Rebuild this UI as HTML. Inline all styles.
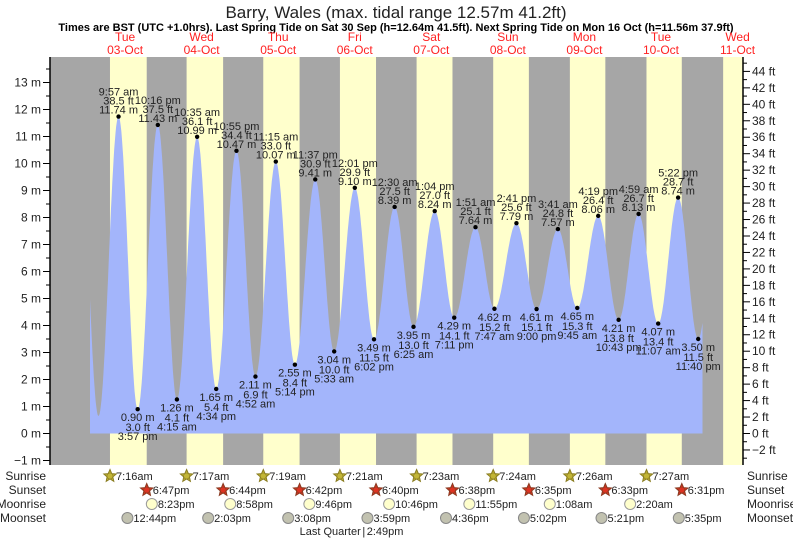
<!DOCTYPE html>
<html><head><meta charset="utf-8">
<style>
html,body{margin:0;padding:0;background:#fff;}
svg{display:block;font-family:"Liberation Sans",sans-serif;}
</style></head>
<body>
<svg id="chart" width="793" height="539" viewBox="0 0 793 539">
<text x="396" y="18" font-size="17" text-anchor="middle" fill="#222">Barry, Wales (max. tidal range 12.57m 41.2ft)</text>
<text x="396" y="31" font-size="11" font-weight="bold" text-anchor="middle" fill="#000">Times are BST (UTC +1.0hrs). Last Spring Tide on Sat 30 Sep (h=12.64m 41.5ft). Next Spring Tide on Mon 16 Oct (h=11.56m 37.9ft)</text>
<g id="bg"></g>
<g id="fill"></g>
<g id="axes"></g>
<g id="labels"></g>
<g id="days"></g>
<g id="astro"></g>
</svg>
<script>
// ---- data ----
const dayNames = ["Tue","Wed","Thu","Fri","Sat","Sun","Mon","Tue","Wed"];
const dayDates = ["03-Oct","04-Oct","05-Oct","06-Oct","07-Oct","08-Oct","09-Oct","10-Oct","11-Oct"];
const tideDay = [0,0,0,0, 1,1,1,1, 2,2,2,2, 3,3,3, 4,4,4,4, 5,5,5,5, 6,6,6,6, 7,7,7,7];
const tideTime = ["3:40 am","9:57 am","3:57 pm","10:16 pm","4:15 am","10:35 am","4:34 pm","10:55 pm","4:52 am","11:15 am","5:14 pm","11:37 pm","5:33 am","12:01 pm","6:02 pm","12:30 am","6:25 am","1:04 pm","7:11 pm","1:51 am","7:47 am","2:41 pm","9:00 pm","3:41 am","9:45 am","4:19 pm","10:43 pm","4:59 am","11:07 am","5:22 pm","11:40 pm"];
const tideHeight = [0.65,11.74,0.90,11.43,1.26,10.99,1.65,10.47,2.11,10.07,2.55,9.41,3.04,9.10,3.49,8.39,3.95,8.24,4.29,7.64,4.62,7.79,4.61,7.57,4.65,8.06,4.21,8.13,4.07,8.74,3.50];
const tideLabeled = [0,1,1,1,1,1,1,1,1,1,1,1,1,1,1,1,1,1,1,1,1,1,1,1,1,1,1,1,1,1,1];
const sunriseTimes = ["7:16am","7:17am","7:19am","7:21am","7:23am","7:24am","7:26am","7:27am"];
const sunsetTimes = ["6:47pm","6:44pm","6:42pm","6:40pm","6:38pm","6:35pm","6:33pm","6:31pm"];
const moonriseDay = [0,1,2,3,4,6,7];
const moonriseTimes = ["8:23pm","8:58pm","9:46pm","10:46pm","11:55pm","1:08am","2:20am"];
const moonsetDay = [0,1,2,3,4,5,6,7];
const moonsetTimes = ["12:44pm","2:03pm","3:08pm","3:59pm","4:36pm","5:02pm","5:21pm","5:35pm"];
const phaseDay = 3, phaseName = "Last Quarter", phaseTime = "2:49pm";
const mTicks = [-1,0,1,2,3,4,5,6,7,8,9,10,11,12,13];
const ftTicks = [-2,0,2,4,6,8,10,12,14,16,18,20,22,24,26,28,30,32,34,36,38,40,42,44];

// ---- scales ----
const X0 = 86.8, PXH = 3.19;
const PL = 50, PR = 743, PT = 57, PB = 465;
const x = t => X0 + t * PXH;
const Y0 = 433.5, PXM = 27.0;
const y = m => Y0 - m * PXM;
const yft = f => y(f * 0.3048);
function parseT(s){
  const m = s.match(/(\d+):(\d+)\s*(am|pm)/);
  let h = +m[1] % 12; if (m[3] === "pm") h += 12;
  return h + (+m[2]) / 60;
}
const NS = "http://www.w3.org/2000/svg";
function mk(tag, attrs, parent, txt){
  const e = document.createElementNS(NS, tag);
  for (const k in attrs) e.setAttribute(k, attrs[k]);
  if (txt !== undefined) e.textContent = txt;
  parent.appendChild(e); return e;
}
const bg = document.getElementById("bg");
const fillG = document.getElementById("fill");
const axes = document.getElementById("axes");
const labels = document.getElementById("labels");
const days = document.getElementById("days");
const astro = document.getElementById("astro");

// ---- background ----
let r = mk("rect", {x:PL, y:PT, width:PR-PL, height:PB-PT, fill:"#a6a6a6"}, bg);


for (let d = 0; d < 9; d++) {
  const sr = parseT(d < 8 ? sunriseTimes[d] : "7:29am") + d*24;
  const ss = parseT(d < 8 ? sunsetTimes[d] : "6:29pm") + d*24;
  const x1 = Math.max(PL, x(sr)), x2 = Math.min(PR, x(ss));
  const b = mk("rect", {x:x1, y:PT, width:Math.max(0,x2-x1), height:PB-PT, fill:"#ffffcc"}, bg);
  
  
}

// ---- tide curve ----
const ext = tideTime.map((s,i) => ({t: tideDay[i]*24 + parseT(s), h: tideHeight[i]}));
const allExt = [{t:-2.5, h:11.6}].concat(ext, [{t:197.9, h:9.0}]);
function level(t){
  for (let i = 0; i < allExt.length-1; i++) {
    const a = allExt[i], b = allExt[i+1];
    if (t >= a.t && t <= b.t) {
      const f = (t - a.t) / (b.t - a.t);
      return b.h + (a.h - b.h) * (1 + Math.cos(Math.PI * f)) / 2;
    }
  }
  return allExt[allExt.length-1].h;
}
const tStart = 1.0, tEnd = 193.0;
let d = `M${x(tStart).toFixed(1)},${y(0).toFixed(1)}`;
for (let t = tStart; t <= tEnd + 1e-6; t += 0.2) d += ` L${x(t).toFixed(1)},${y(level(t)).toFixed(1)}`;
d += ` L${x(tEnd).toFixed(1)},${y(0).toFixed(1)} Z`;
const area = mk("path", {d:d, fill:"#a3b5fb"}, fillG);



// ---- axes ----
mk("line", {x1:PL, y1:PT, x2:PL, y2:PB, stroke:"#000", "stroke-width":1.5}, axes);
mk("line", {x1:PR, y1:PT, x2:PR, y2:PB, stroke:"#000", "stroke-width":1.5}, axes);
mTicks.forEach(m => {
  mk("line", {x1:PL-7, y1:y(m), x2:PL, y2:y(m), stroke:"#000"}, axes);
  if (m < 13.5) mk("line", {x1:PL-4, y1:y(m+0.5), x2:PL, y2:y(m+0.5), stroke:"#000"}, axes);
  const t = mk("text", {x:PL-9, y:y(m)+4, "font-size":12, "text-anchor":"end", fill:"#222"}, axes, (m<0?"\u2212"+(-m):m) + " m");
  
  
});
mk("line", {x1:PL-4, y1:y(-0.5), x2:PL, y2:y(-0.5), stroke:"#000"}, axes);
ftTicks.forEach(f => {
  mk("line", {x1:PR, y1:yft(f), x2:PR+7, y2:yft(f), stroke:"#000"}, axes);
  mk("line", {x1:PR, y1:yft(f+1), x2:PR+4, y2:yft(f+1), stroke:"#000"}, axes);
  const t = mk("text", {x:PR+9, y:yft(f)+4, "font-size":12, fill:"#222"}, axes, (f<0?"\u2212"+(-f):f) + " ft");
  
  
});
mk("line", {x1:PR, y1:yft(-3), x2:PR+4, y2:yft(-3), stroke:"#000"}, axes);

// ---- tide labels ----
ext.forEach((e, i) => {
  if (!tideLabeled[i]) return;
  const cx = x(e.t), cy = y(e.h);
  const isHigh = (i > 0 ? e.h > ext[i-1].h : e.h > ext[i+1].h);
  const dot = mk("circle", {cx:cx, cy:cy, r:2.2, fill:"#000"}, labels);
  
  
  const mStr = e.h.toFixed(2) + " m", ftStr = (e.h * 3.28084).toFixed(1) + " ft", tStr = tideTime[i];
  const lines = isHigh ? [[tStr,-21],[ftStr,-12],[mStr,-3]] : [[mStr,12],[ftStr,22],[tStr,31]];
  lines.forEach(l => {
    const t = mk("text", {x:cx, y:cy + l[1], "font-size":11, "text-anchor":"middle", fill:"#222"}, labels, l[0]);
    
    
  });
});

// ---- day labels ----
dayNames.forEach((n, i) => {
  const cx = x(i*24 + 12);
  const a = mk("text", {x:cx, y:41, "font-size":12, "text-anchor":"middle", fill:"#f22"}, days, n);
  
  
  const b = mk("text", {x:cx, y:54, "font-size":12, "text-anchor":"middle", fill:"#f22"}, days, dayDates[i]);
  
  
});

// ---- astro rows ----
const rows = [["Sunrise",476],["Sunset",490],["Moonrise",504],["Moonset",518]];
rows.forEach(rw => {
  const a = mk("text", {x:46, y:rw[1]+4, "font-size":12, "text-anchor":"end", fill:"#222"}, astro, rw[0]);
  
  
  const b = mk("text", {x:747, y:rw[1]+4, "font-size":12, fill:"#222"}, astro, rw[0]);
  
  
});
function star(cx, cy, fill, stroke){
  let p = "";
  for (let k = 0; k < 10; k++) {
    const ang = -Math.PI/2 + k*Math.PI/5, rr = k%2 ? 3 : 6.5;
    p += (k ? "L" : "M") + (cx + rr*Math.cos(ang)).toFixed(1) + "," + (cy + rr*Math.sin(ang)).toFixed(1);
  }
  const s = mk("path", {d:p+"Z", fill:fill, stroke:stroke, "stroke-width":1}, astro);
  mk("circle", {cx:cx, cy:cy, r:3, fill:fill, stroke:stroke, "stroke-width":0.6}, astro);
  return s;
}
sunriseTimes.forEach((s, i) => {
  const cx = x(i*24 + parseT(s));
  const st = star(cx, 476, "#c2b536", "#8a7d20");
  
  
  const t = mk("text", {x:cx+6, y:480, "font-size":11, fill:"#222"}, astro, s);
  
  
});
sunsetTimes.forEach((s, i) => {
  const cx = x(i*24 + parseT(s));
  const st = star(cx, 490, "#dd3322", "#8a3a20");
  
  
  const t = mk("text", {x:cx+6, y:494, "font-size":11, fill:"#222"}, astro, s);
  
  
});
moonriseTimes.forEach((s, i) => {
  const cx = x(moonriseDay[i]*24 + parseT(s));
  const c = mk("circle", {cx:cx, cy:504, r:5.5, fill:"#ffffcc", stroke:"#999", "stroke-width":1}, astro);
  
  
  const t = mk("text", {x:cx+6, y:508, "font-size":11, fill:"#222"}, astro, s);
  
  
});
moonsetTimes.forEach((s, i) => {
  const cx = x(moonsetDay[i]*24 + parseT(s));
  const c = mk("circle", {cx:cx, cy:518, r:5.5, fill:"#c2c2b0", stroke:"#888", "stroke-width":1}, astro);
  
  
  const t = mk("text", {x:cx+6, y:522, "font-size":11, fill:"#222"}, astro, s);
  
  
});
const px = x(phaseDay*24 + parseT(phaseTime));
const p1 = mk("text", {x:px-3, y:535, "font-size":11, "text-anchor":"end", fill:"#222"}, astro, phaseName);


const p2 = mk("text", {x:px, y:535, "font-size":11, "text-anchor":"middle", fill:"#222"}, astro, "|");


const p3 = mk("text", {x:px+3, y:535, "font-size":11, fill:"#222"}, astro, phaseTime);


</script>
</body></html>
